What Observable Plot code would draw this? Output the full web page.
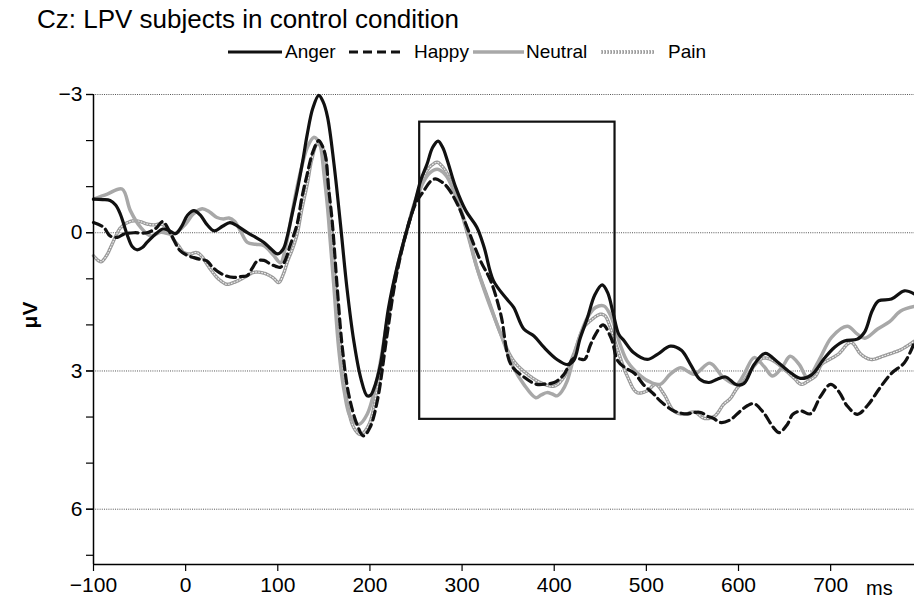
<!DOCTYPE html>
<html>
<head>
<meta charset="utf-8">
<script src="https://cdn.jsdelivr.net/npm/d3@7"></script>
<script src="https://cdn.jsdelivr.net/npm/@observablehq/plot@0.6"></script>
<style>
  body { margin: 0; background: #fff; font-family: Arial, "Liberation Sans", sans-serif; color: #000; }
  #wrap { position: relative; width: 914px; height: 599px; overflow: hidden; background: #fff; }
  #title { position: absolute; left: 37px; top: 4px; font-size: 26px; line-height: 30px; white-space: nowrap; }
  .sw { position: absolute; top: 44px; }
  .lt { position: absolute; top: 40px; font-size: 19px; line-height: 24px; white-space: nowrap; }
  #chart { position: absolute; left: 0; top: 66px; }
  #ylab { position: absolute; left: 30px; top: 315px; transform: translate(-50%, -50%) rotate(-90deg); font-weight: bold; font-size: 21px; white-space: nowrap; }
  #unit { position: absolute; left: 866px; top: 576px; font-size: 20px; line-height: 24px; }
</style>
</head>
<body>
<div id="wrap">
  <div id="title">Cz: LPV subjects in control condition</div>
  <svg class="sw" style="left:228px" width="56" height="16"><line x1="0" y1="8" x2="54" y2="8" stroke="#111" stroke-width="3.2"/></svg>
  <span class="lt" style="left:285px">Anger</span>
  <svg class="sw" style="left:349px" width="56" height="16"><line x1="0" y1="8" x2="54" y2="8" stroke="#111" stroke-width="3.2" stroke-dasharray="9,5"/></svg>
  <span class="lt" style="left:414px">Happy</span>
  <svg class="sw" style="left:473px" width="56" height="16"><line x1="0" y1="8" x2="51" y2="8" stroke="#a8a8a8" stroke-width="3.5"/></svg>
  <span class="lt" style="left:526px">Neutral</span>
  <svg class="sw" style="left:601px" width="56" height="16"><line x1="0" y1="8" x2="54" y2="8" stroke="#9a9a9a" stroke-width="3.4" stroke-dasharray="2,1"/><line x1="0" y1="8" x2="54" y2="8" stroke="#f2f2f2" stroke-width="1.1" stroke-dasharray="1,2"/></svg>
  <span class="lt" style="left:668px">Pain</span>
  <div id="chart"></div>
  <div id="ylab">μV</div>
  <div id="unit">ms</div>
</div>
<script>
// ---- data (time in ms, amplitude in µV; negative plotted upward) ----
const angerT = [-100,-90,-82,-76,-71,-63,-58,-53,-47,-42,-31,-25,-18,-11,-4,2,9,16,23,31,40,48,56,67,76,85,93,100,106,110,115,121,127,132,138,144.5,149,154,161,168,175,182.5,190,197,201,204,211.5,220,230,240,248,255,262,268,274,279,284,293,304,316,324,334,349,356,367,378,389,403,414,421,428,436,444,452,458,464,470,476,486,501,512,526,538,548,558,568,577,586,598,606,617,629,642,654,667,679,693,704,715,729,737,745,752,766,780,791];
const angerV = [-0.73,-0.72,-0.7,-0.6,-0.41,0.07,0.3,0.37,0.32,0.21,0.0,-0.08,-0.05,0.02,-0.15,-0.38,-0.48,-0.38,-0.18,-0.04,-0.14,-0.22,-0.15,0.0,0.1,0.21,0.36,0.46,0.35,0.1,-0.35,-0.91,-1.55,-2.14,-2.7,-2.98,-2.85,-2.51,-1.49,-0.19,1.19,2.35,3.15,3.54,3.52,3.4,2.85,1.65,0.7,-0.05,-0.6,-1.13,-1.49,-1.85,-1.99,-1.85,-1.57,-0.99,-0.48,-0.12,0.32,1.04,1.45,1.62,2.09,2.24,2.49,2.75,2.86,2.78,2.3,1.85,1.35,1.13,1.3,1.75,2.2,2.35,2.6,2.75,2.64,2.46,2.55,2.86,3.18,3.25,3.18,3.13,3.3,3.27,2.86,2.62,2.8,3.0,3.16,3.09,2.73,2.49,2.35,2.31,2.15,1.7,1.48,1.44,1.26,1.33];

const happyT = [-100,-89,-82,-74,-67,-56,-42,-32,-25,-16,-6,3,9,16,23,28,34,43,52,60,67,72,78,85,92,98,103,108,113,121,126,132,138,144.5,148,152,155,159,164.5,170,177,186,193,200,208,218,228,240,250,258.5,265,271,278,284,295,307,320,331,342,353,367,381,392,400,410,421,428,433,439,445,453,462,469,477,487,497,508,515,530,544,552,559,566,572,581,591,602,610,617,627,638,644,653,659,668,678,689,700,709,718,729,740,753,766,780,791];
const happyV = [-0.22,-0.12,0.07,0.1,0.03,0.0,0.0,-0.1,-0.24,0.03,0.39,0.5,0.54,0.58,0.61,0.72,0.83,0.93,0.97,0.95,0.93,0.78,0.61,0.6,0.68,0.73,0.75,0.6,0.3,-0.19,-0.75,-1.28,-1.75,-2.0,-1.9,-1.64,-1.0,-0.26,1.19,2.49,3.51,4.16,4.41,4.23,3.65,2.3,1.0,-0.05,-0.65,-0.91,-1.1,-1.17,-1.1,-0.99,-0.62,-0.04,0.61,1.04,1.77,2.86,3.13,3.29,3.28,3.25,3.09,2.73,2.74,2.75,2.45,2.2,2.0,2.3,2.78,2.93,3.05,3.3,3.5,3.65,3.87,3.93,3.9,3.9,3.98,4.02,4.12,4.06,3.87,3.75,3.71,3.9,4.23,4.34,4.16,3.94,3.87,3.93,3.55,3.29,3.45,3.76,3.94,3.75,3.38,3.05,2.82,2.38];

const neutralT = [-100,-85,-69,-60,-49,-38,-27,-13,0,8,18,26,34,41,47,53,60,67,76,85,95,103,108,114,119,125,132,139,143,146.5,150,154,157,161,166,172,179,188,197,208,218,228,240,250,258,265,273,280,284,295,306,316,327,342,356,367,380,386,392,398,403,408,414,425,436,445,454,460,465,472,479,494,505,515,526,537,552,569,584,598,606,617,628,637,648,656,666,675,687,701,718,729,737,751,764,776,791];
const neutralV = [-0.73,-0.84,-0.95,-0.48,-0.12,0.07,-0.01,0.03,-0.19,-0.4,-0.52,-0.45,-0.33,-0.3,-0.32,-0.25,-0.02,0.21,0.25,0.28,0.48,0.65,0.35,-0.26,-0.8,-1.35,-1.85,-2.07,-2.02,-1.86,-1.3,-0.55,0.2,1.19,2.49,3.43,4.01,4.16,3.94,3.15,2.0,0.9,-0.05,-0.7,-1.1,-1.3,-1.38,-1.3,-1.2,-0.7,-0.04,0.75,1.41,2.2,2.93,3.29,3.58,3.52,3.47,3.5,3.54,3.45,3.22,2.42,1.84,1.62,1.59,1.75,2.0,2.45,2.78,3.11,3.25,3.29,3.07,2.93,3.07,2.83,3.15,3.29,3.07,2.71,2.91,3.11,2.9,2.68,2.86,3.15,2.78,2.27,2.03,2.2,2.29,2.09,1.93,1.7,1.6];

const painT = [-100,-92,-86,-81,-76,-71,-63,-56,-49,-42,-34,-27,-20,-13,-7,-2,5,12,18,23,29,34,40,45,52,60,67,74,81,88,95,101,106,111,116,121,126,132,137,142.7,146,150,154,157,160,162.6,168,175,182.5,190,199,208,218,228,240,250,262,268,273,278,284,295,306,316,329,342,356,371,385,400,410,421,432,441,450,455,461,468,479,490,501,510,519,530,541,552,563,574,584,591,599,606,613,621,627,635,646,660,668,677,684,690,696,708,722,733,744,758,777,791];
const painV = [0.5,0.63,0.5,0.3,0.08,-0.1,-0.22,-0.26,-0.24,-0.19,-0.17,-0.19,-0.1,0.15,0.3,0.43,0.46,0.43,0.52,0.68,0.85,0.97,1.07,1.12,1.08,1.01,0.93,0.86,0.86,0.9,0.98,1.08,0.9,0.6,0.35,0.03,-0.5,-1.06,-1.6,-1.93,-1.9,-1.78,-1.2,-0.41,0.4,1.19,2.49,3.65,4.23,4.38,4.16,3.36,2.1,0.95,-0.05,-0.75,-1.35,-1.48,-1.53,-1.45,-1.28,-0.7,0.03,0.75,1.48,2.2,2.78,3.07,3.25,3.33,3.15,2.64,2.06,1.88,1.77,1.8,2.06,2.49,3.1,3.47,3.43,3.29,3.5,3.87,3.94,3.89,4.03,3.98,3.72,3.6,3.36,3.22,3.0,2.8,2.72,2.75,2.9,3.15,3.29,3.2,3.1,2.86,2.78,2.64,2.38,2.64,2.75,2.67,2.53,2.35];

// analysis window box
const boxStart = [254];
const boxEnd = [466];
const boxTop = [-2.4];
const boxBottom = [4.05];

const xDomain = [-100, 791];
const yDomain = [-3, 7.2];
const xTicks = [-100, 0, 100, 200, 300, 400, 500, 600, 700];
const yTicks = [-3, 0, 3, 6];
const yMinorTicks = [-3, -2, -1, 0, 1, 2, 3, 4, 5, 6, 7];
const gridVals = [-3, 0, 3, 6];

// ---- build tables ----
const rows = (name, T, V) => T.map((t, i) => ({ series: name, t, v: V[i] }));
const anger = rows("Anger", angerT, angerV);
const happy = rows("Happy", happyT, happyV);
const neutral = rows("Neutral", neutralT, neutralV);
const pain = rows("Pain", painT, painV);
const box = boxStart.map((s, i) => ({ x1: s, x2: boxEnd[i], y1: boxTop[i], y2: boxBottom[i] }));

const minus = d => (d < 0 ? "\u2212" + Math.abs(d) : String(d));
const L = { x: "t", y: "v", curve: "catmull-rom" };

const chart = Plot.plot({
  width: 914,
  height: 533,
  marginTop: 28,
  marginBottom: 35,
  marginLeft: 93,
  marginRight: 0,
  style: { fontFamily: "Arial, 'Liberation Sans', sans-serif", fontSize: "21px", color: "#000", background: "#fff" },
  x: { domain: xDomain },
  y: { domain: yDomain, reverse: true },
  marks: [
    Plot.ruleY(gridVals, { stroke: "#555", strokeWidth: 1, strokeDasharray: "1,1.2" }),
    Plot.line(pain, { ...L, stroke: "#9a9a9a", strokeWidth: 3.4, strokeDasharray: "2,1" }),
    Plot.line(pain, { ...L, stroke: "#f2f2f2", strokeWidth: 1.1, strokeDasharray: "1,2" }),
    Plot.line(neutral, { ...L, stroke: "#a8a8a8", strokeWidth: 3.5 }),
    Plot.line(happy, { ...L, stroke: "#111", strokeWidth: 3.2, strokeDasharray: "9,5" }),
    Plot.line(anger, { ...L, stroke: "#111", strokeWidth: 3.2 }),
    Plot.rect(box, { x1: "x1", x2: "x2", y1: "y1", y2: "y2", fill: "none", stroke: "#111", strokeWidth: 2.2 }),
    Plot.ruleX([xDomain[0]], { stroke: "#000", strokeWidth: 1.5 }),
    Plot.ruleY([yDomain[1]], { stroke: "#000", strokeWidth: 1.5 }),
    Plot.axisY(yMinorTicks, { tickSize: 7, tickFormat: () => "", label: null, strokeWidth: 1.2 }),
    Plot.axisY(yTicks, { tickSize: 7, tickPadding: 4, tickFormat: minus, label: null, strokeWidth: 1.2 }),
    Plot.axisX(xTicks, { tickSize: 7, tickPadding: 6, tickFormat: minus, label: null, strokeWidth: 1.2 })
  ]
});
document.getElementById("chart").appendChild(chart);
</script>
</body>
</html>
